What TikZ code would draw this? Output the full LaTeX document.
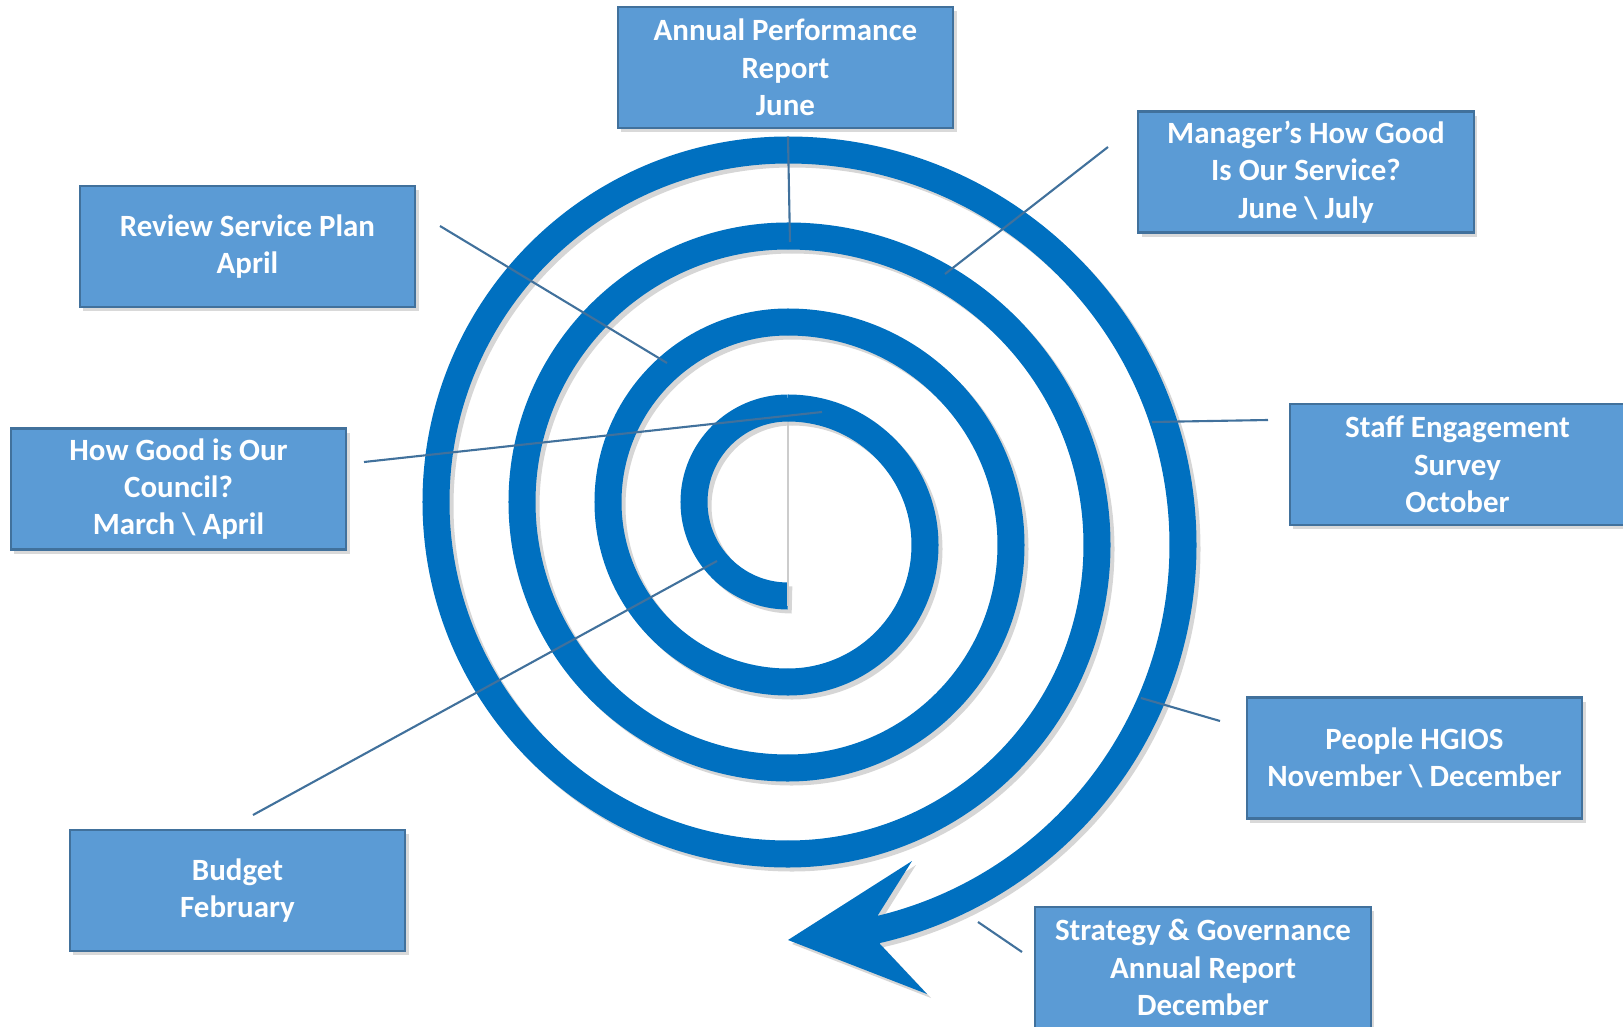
\documentclass[tikz,border=0pt]{standalone}
\usepackage{fontspec}
\setmainfont{Carlito}
\usetikzlibrary{shadows}

\definecolor{spiralblue}{RGB}{0,112,192}
\definecolor{boxfill}{RGB}{91,155,213}
\definecolor{boxline}{RGB}{65,113,156}

\begin{document}
\begin{tikzpicture}[x=0.01cm, y=-0.01cm,
  box/.style={draw=boxline, line width=0.6pt, fill=boxfill, text=white,
    minimum width=3.35cm, minimum height=1.21cm, inner sep=0pt, align=center,
    font=\fontsize{8.8}{10.6}\selectfont\bfseries,
    drop shadow={shadow xshift=1pt, shadow yshift=-1.2pt, opacity=0.3}},
  leader/.style={draw=boxline, line width=0.6pt},
  ring/.style={line width=0.27cm}]
  \useasboundingbox (0,0) rectangle (1623,1027);

  % spiral of half circles, shadow pass first
  \foreach \d/\col in {4/black!16, 0/spiralblue} {
    \begin{scope}[shift={(\d,\d)}]
      \foreach \i in {0,...,3}
        \draw[ring, draw=\col] (788,{596+86*\i}) arc[start angle=90, end angle=270, radius={94+86*\i}];
      \foreach \i in {0,1,2}
        \draw[ring, draw=\col] (788,{408-86*\i}) arc[start angle=-90, end angle=90, radius={137+86*\i}];
      \draw[ring, draw=\col] (788,150) arc[start angle=-90, end angle=78, radius=395];
      \fill[fill=\col] (878,915) -- (912,861) -- (788,940) -- (927,994) -- (880,944) -- cycle;
    \end{scope}
  }
  \draw[black!20, line width=0.4pt] (788,422) -- (788,606);

  % leader lines
  \coordinate (apr-a) at (788,137);    \coordinate (apr-b) at (790,242);
  \coordinate (review-a) at (440,226); \coordinate (review-b) at (667,363);
  \coordinate (hgioc-a) at (364,462);  \coordinate (hgioc-b) at (822,412);
  \coordinate (budget-a) at (253,815); \coordinate (budget-b) at (717,561);
  \coordinate (hgios-a) at (1108,147); \coordinate (hgios-b) at (945,274);
  \coordinate (staff-a) at (1268,420); \coordinate (staff-b) at (1152,422);
  \coordinate (people-a) at (1220,721); \coordinate (people-b) at (1141,698);
  \coordinate (strategy-a) at (1022,952); \coordinate (strategy-b) at (978,922);
  \foreach \n in {apr,review,hgioc,budget,hgios,staff,people,strategy}
    \draw[leader] (\n-a) -- (\n-b);

  % boxes
  \node[box] (apr) at (785.5,67.5) {Annual Performance\\Report\\June};
  \node[box] (review) at (247.5,246.5) {Review Service Plan\\April};
  \node[box] (hgioc) at (178.5,489) {How Good is Our\\Council?\\March \textbackslash{} April};
  \node[box] (budget) at (237.5,890.5) {Budget\\February};
  \node[box] (hgios) at (1306,172) {Manager’s How Good\\Is Our Service?\\June \textbackslash{} July};
  \node[box] (staff) at (1457.5,464.5) {Staff Engagement\\Survey\\October};
  \node[box] (people) at (1414.5,758) {People HGIOS\\November \textbackslash{} December};
  \node[box] (strategy) at (1203,967.5) {Strategy \& Governance\\Annual Report\\December};
\end{tikzpicture}
\end{document}
